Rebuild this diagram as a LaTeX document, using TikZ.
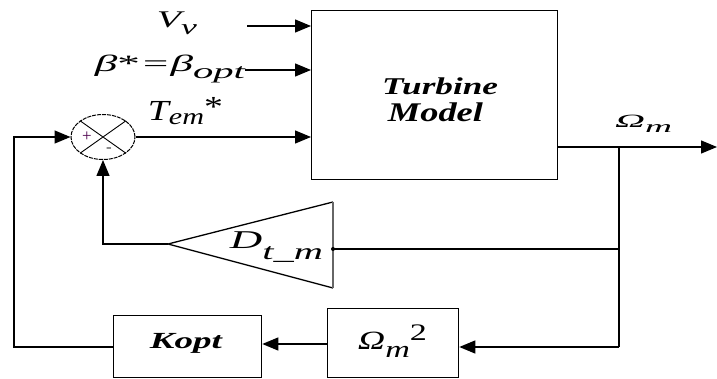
\documentclass[tikz,border=0pt]{standalone}
\usepackage{fontspec}
\setmainfont{Liberation Serif}
\usetikzlibrary{arrows.meta,shapes.geometric}
\newcommand{\fitbox}[3]{\resizebox*{#1pt}{#2pt}{#3}}
\begin{document}
\begin{tikzpicture}[x=1pt,y=-1pt,
  ln/.style={line width=1.3pt},
  arr/.style={ln,-{Triangle[length=16pt,width=13pt]}},
  blk/.style={draw,line width=1.3pt,inner sep=0pt,anchor=north west},
  lbl/.style={inner sep=0pt,font=\itshape}]
\useasboundingbox (0,0) rectangle (717,379);
% blocks
\node[blk,minimum width=246pt,minimum height=169pt] (tm) at (311,10) {};
\node[lbl,font=\bfseries\itshape] (tmt1) at (440,86.5) {\fitbox{116}{17}{Turbine}};
\node[lbl,font=\bfseries\itshape] (tmt2) at (435.5,112.5) {\fitbox{95}{19}{Model}};
\node[blk,minimum width=148pt,minimum height=62pt] (kopt) at (113,315) {};
\node[lbl,font=\bfseries\itshape] (koptt) at (186,343) {\fitbox{72}{20}{Kopt}};
\node[blk,minimum width=131pt,minimum height=69pt] (om2) at (327,308) {};
\node[lbl] (om2t) at (392.5,341) {\fitbox{69}{32}{Ω\raisebox{-3pt}{\small m}\raisebox{3.2pt}{\upshape\small 2}}};
% sum
\node[draw,ellipse,line width=1pt,dash pattern=on 4pt off 1pt,minimum width=64pt,minimum height=45pt,inner sep=0pt] (sum) at (103,137) {};
\draw[line width=0.9pt] (sum.north west) -- (sum.south east) (sum.north east) -- (sum.south west);
\node[lbl,font=\upshape\fontsize{17}{17}\selectfont,text=violet!60!black] (plus) at (87,137) {+};
\node[lbl,font=\upshape\fontsize{17}{17}\selectfont,text=black!70] (minus) at (109,150) {-};
% inputs
\coordinate (vvs) at (247,26);
\coordinate (bts) at (245,70);
\draw[arr] (vvs) -- (vvs -| tm.west);
\draw[arr] (bts) -- (bts -| tm.west);
\draw[arr] (sum.east) -- (sum.east -| tm.west);
\node[lbl] (vv) at (177,23.5) {\fitbox{40}{23}{V\raisebox{-3pt}{\small v}}};
\node[lbl] (bt) at (170,69) {\fitbox{150}{28}{β\upshape *\itshape=β\raisebox{-3pt}{\small opt}}};
\node[lbl] (tem) at (185.5,111) {\fitbox{75}{28}{T\raisebox{-1.6pt}{\footnotesize em}\raisebox{1.4pt}{\upshape *}}};
% output
\coordinate (os) at (557,147);
\coordinate (oe) at (717,147);
\coordinate (br) at (619,147);
\draw[arr] (os) -- (oe);
\node[lbl] (omt) at (643.5,124) {\fitbox{57}{18}{Ω\raisebox{-3pt}{\small m}}};
% triangle gain
\coordinate (ta) at (333,202);
\coordinate (tb) at (333,288);
\coordinate (tc) at (168,244);
\coordinate (tin) at (333,249);
\draw[ln] (ta) -- (tc) -- (tb);
\draw[line width=2pt,black!60] (ta) -- (tb);
\fill (tin) circle (2pt);
\node[lbl] (dtm) at (276.5,247) {\fitbox{93}{30}{D\raisebox{-4pt}{\small t\_m}}};
\coordinate (tfb) at (619,249);
\draw[ln] (tfb) -- (tin);
\coordinate (tl) at (103,244);
\draw[arr] (tc) -- (tl) -- (sum.south);
% loop
\coordinate (bl) at (619,347);
\draw[ln] (br) -- (bl);
\draw[arr] (bl) -- (bl -| om2.east);
\coordinate (om2l) at (327,344);
\draw[arr] (om2l) -- (om2l -| kopt.east);
\coordinate (kl) at (113,347);
\coordinate (fl) at (14,347);
\coordinate (fu) at (14,137);
\draw[arr] (kl) -- (fl) -- (fu) -- (sum.west);
\end{tikzpicture}
\end{document}
